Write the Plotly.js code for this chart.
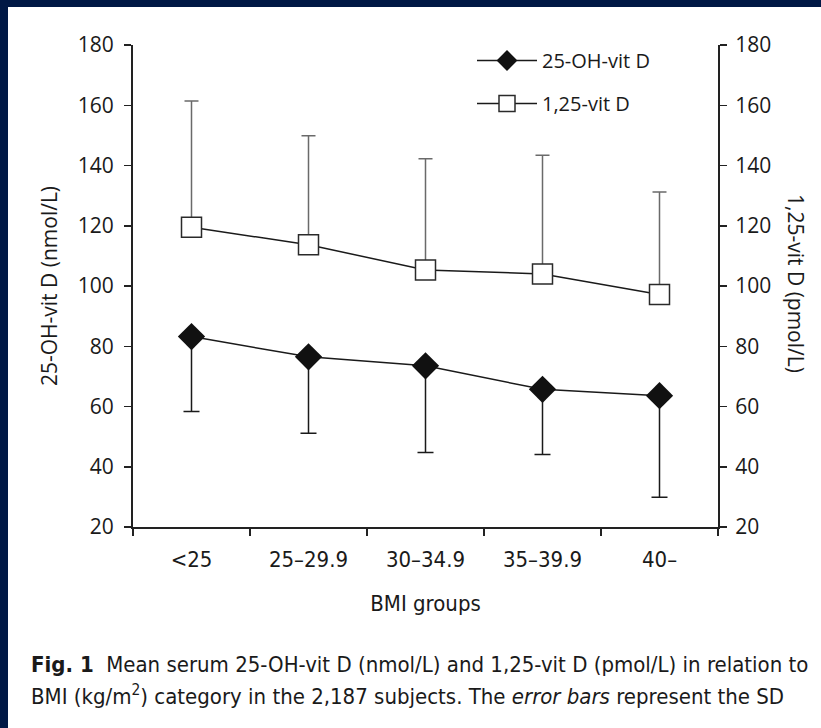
<!DOCTYPE html>
<html>
<head>
<meta charset="utf-8">
<script src="https://cdn.plot.ly/plotly-3.0.1.min.js"></script>
<style>
  html, body { margin: 0; padding: 0; background: #001845; width: 821px; height: 728px; overflow: hidden; }
  #chart { position: absolute; left: 8px; top: 7px; width: 813px; height: 721px; background: #ffffff; }
</style>
</head>
<body>
<div id="chart"></div>
<script>
// ---- data ----
const categories = ['<25', '25\u201329.9', '30\u201334.9', '35\u201339.9', '40\u2013'];
const ohVitD = [83.2, 76.5, 73.5, 65.7, 63.6];          // 25-OH-vit D (nmol/L), mean
const ohVitDSD = [24.9, 25.4, 28.8, 21.6, 33.7];         // SD (drawn downward)
const vitD125 = [119.5, 113.7, 105.3, 104.0, 97.2];     // 1,25-vit D (pmol/L), mean
const vitD125SD = [41.9, 36.2, 36.9, 39.4, 34.0];        // SD (drawn upward)
const yTicks = [20, 40, 60, 80, 100, 120, 140, 160, 180];
const zeros = ohVitD.map(() => 0);

const textFont = 'Open Sans';
const narrowFont = "'DejaVu Sans Condensed', 'Liberation Sans Narrow', Roboto, sans-serif";

const traces = [
  {
    x: categories, y: ohVitD, yaxis: 'y', type: 'scatter', mode: 'lines+markers',
    name: '25-OH-vit D', legendgroup: 'a',
    line: { color: '#1a1a1a', width: 1.5 },
    marker: { symbol: 'diamond', size: 21, color: '#111111', line: { width: 0 } },
    error_y: { type: 'data', symmetric: false, array: zeros, arrayminus: ohVitDSD,
               color: '#1a1a1a', thickness: 1.5, width: 8 }
  },
  {
    x: categories, y: vitD125, yaxis: 'y2', type: 'scatter', mode: 'lines+markers',
    name: '1,25-vit D', legendgroup: 'b',
    line: { color: '#1a1a1a', width: 1.5 },
    marker: { symbol: 'square', size: 20, color: '#ffffff', line: { width: 1.5, color: '#2a2a2a' } },
    error_y: { type: 'data', symmetric: false, array: vitD125SD, arrayminus: zeros,
               color: '#6a6a6a', thickness: 1.5, width: 7 }
  }
];

const L = 125, T = 38, W = 585, H = 482;
const px = v => (v - L) / W;
const py = v => (T + H - v) / H;

const layout = {
  width: 813, height: 721,
  paper_bgcolor: '#ffffff', plot_bgcolor: '#ffffff',
  margin: { l: L, r: 813 - L - W, t: T, b: 721 - T - H, pad: 0 },
  showlegend: true,
  legend: {
    x: px(464), y: py(34), xanchor: 'left', yanchor: 'top',
    itemwidth: 60,
    font: { family: textFont, size: 20, color: '#1a1a1a' },
    bgcolor: 'rgba(0,0,0,0)', tracegroupgap: 14, traceorder: 'grouped'
  },
  xaxis: {
    type: 'category', range: [-0.5, 4.5],
    showline: true, linecolor: '#222222', linewidth: 2,
    ticks: 'outside', tickson: 'boundaries', ticklen: 7, tickwidth: 1.5, tickcolor: '#222222',
    ticklabelstandoff: 12,
    tickfont: { family: narrowFont, size: 22, color: '#1a1a1a' },
    showgrid: false, zeroline: false, fixedrange: true,
    title: { text: 'BMI groups', font: { family: narrowFont, size: 22, color: '#1a1a1a' }, standoff: 24 }
  },
  yaxis: {
    range: [20, 180], tickvals: yTicks,
    showline: true, linecolor: '#222222', linewidth: 2,
    ticks: 'outside', ticklen: 7, tickwidth: 1.5, tickcolor: '#222222',
    ticklabelstandoff: 6,
    tickfont: { family: textFont, size: 21, color: '#1a1a1a' },
    showgrid: false, zeroline: false, fixedrange: true,
    title: { text: '25-OH-vit D (nmol/L)', font: { family: textFont, size: 21, color: '#1a1a1a' }, standoff: 14 }
  },
  yaxis2: {
    overlaying: 'y', side: 'right',
    range: [20, 180], tickvals: yTicks,
    showline: true, linecolor: '#222222', linewidth: 2,
    ticks: 'outside', ticklen: 7, tickwidth: 1.5, tickcolor: '#222222',
    ticklabelstandoff: 4,
    tickfont: { family: textFont, size: 21, color: '#1a1a1a' },
    showgrid: false, zeroline: false, fixedrange: true
  },
  annotations: [
    {
      text: '1,25-vit D (pmol/L)', textangle: 90,
      xref: 'paper', yref: 'paper', x: px(788), y: py(276), xanchor: 'center', yanchor: 'middle',
      showarrow: false, font: { family: textFont, size: 21, color: '#1a1a1a' }
    },
    {
      text: '<b>Fig. 1</b>  Mean serum 25-OH-vit D (nmol/L) and 1,25-vit D (pmol/L) in relation to',
      xref: 'paper', yref: 'paper', x: px(21), y: py(658), xanchor: 'left', yanchor: 'middle',
      showarrow: false, font: { family: narrowFont, size: 22, color: '#1a1a1a' }
    },
    {
      text: 'BMI (kg/m<sup>2</sup>) category in the 2,187 subjects. The <i>error bars</i> represent the SD',
      xref: 'paper', yref: 'paper', x: px(21), y: py(688), xanchor: 'left', yanchor: 'middle',
      showarrow: false, font: { family: narrowFont, size: 22, color: '#1a1a1a' }
    }
  ]
};

Plotly.newPlot('chart', traces, layout, { staticPlot: true, displayModeBar: false });
</script>
</body>
</html>
